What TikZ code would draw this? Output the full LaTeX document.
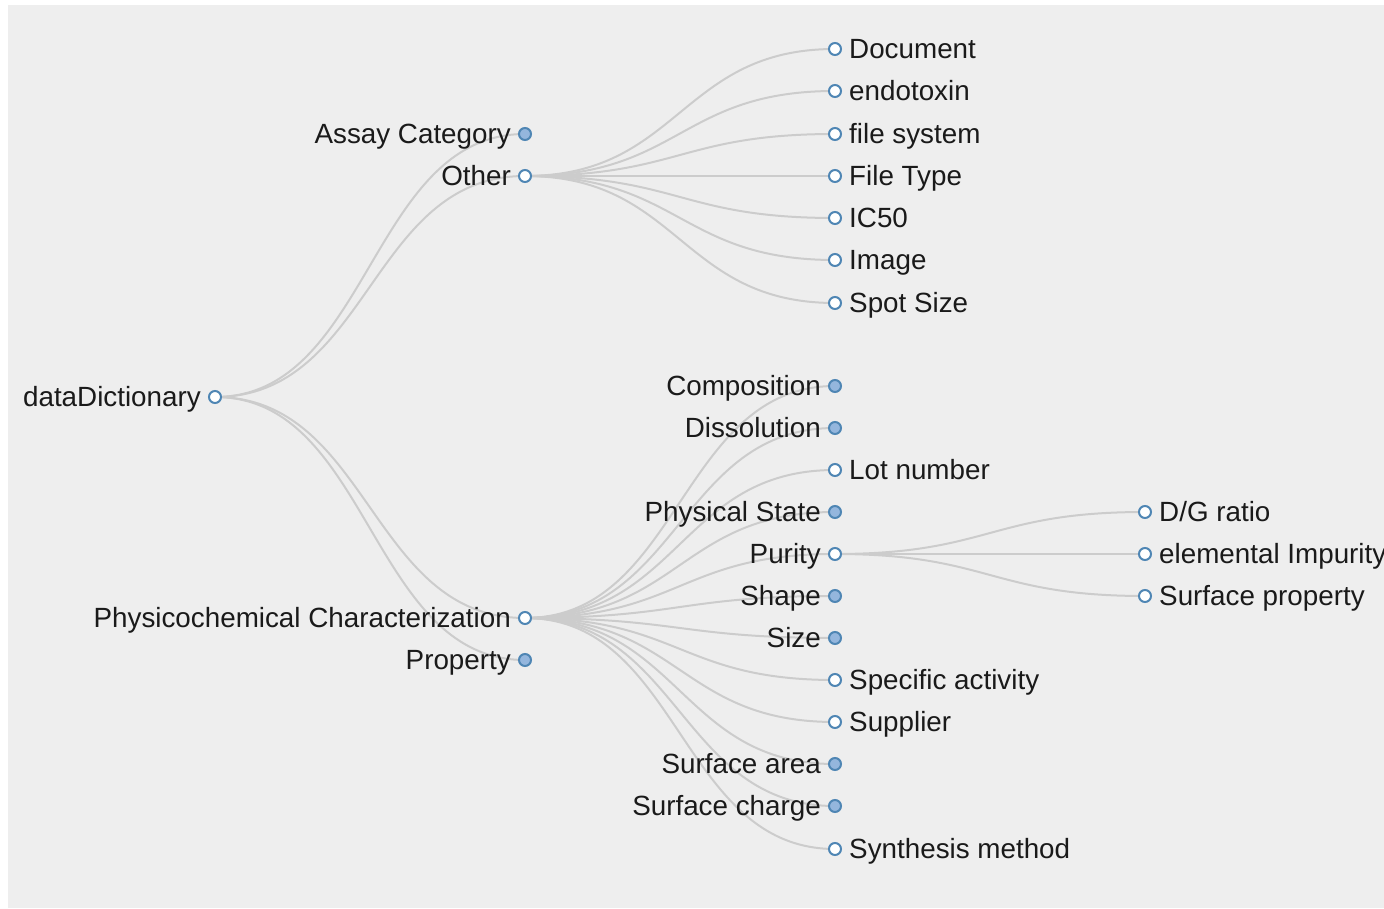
\documentclass[tikz,border=0pt]{standalone}
\usepackage{fontspec}
\setmainfont{Liberation Sans}
\usetikzlibrary{backgrounds}
\definecolor{bg}{HTML}{EEEEEE}
\definecolor{linkc}{HTML}{CCCCCC}
\definecolor{ringc}{HTML}{4F86B4}
\definecolor{fillc}{HTML}{94B6DD}
\definecolor{txt}{HTML}{1A1A1A}
\tikzset{
  dot/.style={circle, draw=ringc, line width=2pt, minimum size=12pt, inner sep=0pt},
  lab/.style={inner sep=0pt, text=txt, font=\fontsize{27.8}{32}\selectfont},
  lft/.style={lab, anchor=base east, xshift=-14pt, yshift=-9.7pt},
  rgt/.style={lab, anchor=base west, xshift=14pt, yshift=-9.7pt},
  link/.style={draw=linkc, line width=2pt}
}
\newcommand\tnode[6]{%
  \node[dot, fill=#4] (#1) at (#2,#3) {};
  \node[#6] (#1-l) at (#1.center) {#5};}
\newcommand\tlink[2]{\draw[link] (#1.center) .. controls +(155,0) and +(-155,0) .. (#2.center);}
\begin{document}
\begin{tikzpicture}[x=1pt, y=-1pt]
\useasboundingbox (0,0) rectangle (1384,909);
% root
\tnode{root}{215}{397}{white}{dataDictionary}{lft}
% depth 1
\tnode{assay}{525}{134}{fillc}{Assay Category}{lft}
\tnode{other}{525}{176}{white}{Other}{lft}
\tnode{phys}{525}{618}{white}{Physicochemical Characterization}{lft}
\tnode{prop}{525}{660}{fillc}{Property}{lft}
% depth 2 (Other)
\tnode{doc}{835}{49}{white}{Document}{rgt}
\tnode{endo}{835}{91}{white}{endotoxin}{rgt}
\tnode{fsys}{835}{134}{white}{file system}{rgt}
\tnode{ftype}{835}{176}{white}{File Type}{rgt}
\tnode{ic}{835}{218}{white}{IC50}{rgt}
\tnode{img}{835}{260}{white}{Image}{rgt}
\tnode{spot}{835}{303}{white}{Spot Size}{rgt}
% depth 2 (Physicochemical)
\tnode{comp}{835}{386}{fillc}{Composition}{lft}
\tnode{diss}{835}{428}{fillc}{Dissolution}{lft}
\tnode{lot}{835}{470}{white}{Lot number}{rgt}
\tnode{pstate}{835}{512}{fillc}{Physical State}{lft}
\tnode{pur}{835}{554}{white}{Purity}{lft}
\tnode{shape}{835}{596}{fillc}{Shape}{lft}
\tnode{size}{835}{638}{fillc}{Size}{lft}
\tnode{spec}{835}{680}{white}{Specific activity}{rgt}
\tnode{supp}{835}{722}{white}{Supplier}{rgt}
\tnode{sarea}{835}{764}{fillc}{Surface area}{lft}
\tnode{scharge}{835}{806}{fillc}{Surface charge}{lft}
\tnode{synth}{835}{849}{white}{Synthesis method}{rgt}
% depth 3 (Purity)
\tnode{dg}{1145}{512}{white}{D/G ratio}{rgt}
\tnode{elem}{1145}{554}{white}{elemental Impurity}{rgt}
\tnode{surfp}{1145}{596}{white}{Surface property}{rgt}
\begin{scope}[on background layer]
\fill[bg] (8,5) rectangle (1384,908);
\foreach \c in {assay,other,phys,prop} {\tlink{root}{\c}}
\foreach \c in {doc,endo,fsys,ftype,ic,img,spot} {\tlink{other}{\c}}
\foreach \c in {comp,diss,lot,pstate,pur,shape,size,spec,supp,sarea,scharge,synth} {\tlink{phys}{\c}}
\foreach \c in {dg,elem,surfp} {\tlink{pur}{\c}}
\end{scope}
\end{tikzpicture}
\end{document}
